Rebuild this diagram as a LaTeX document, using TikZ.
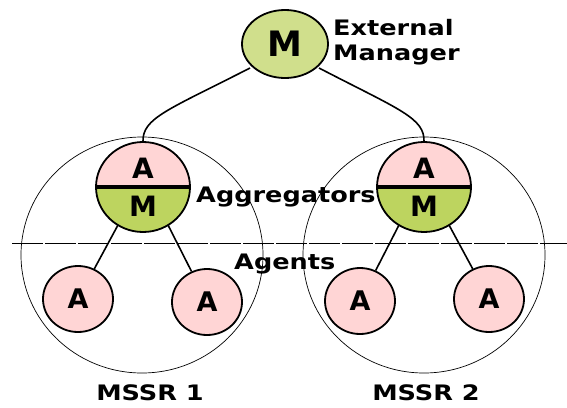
\documentclass[tikz,border=0pt]{standalone}
\usepackage{fontspec}
\setmainfont{DejaVu Sans}
\usetikzlibrary{shapes.geometric}
\definecolor{pinkA}{HTML}{FFD5D5}
\definecolor{greenE}{HTML}{D0DF8C}
\definecolor{greenM}{HTML}{BDD45F}
\begin{document}
\begin{tikzpicture}[x=1pt,y=-1pt,
  lbl/.style={font=\fontsize{21.3}{24}\selectfont\bfseries, xscale=1.2, inner sep=0pt},
  agent/.style={ellipse, draw, line width=1.8pt, fill=pinkA, minimum width=70pt, minimum height=66pt, inner sep=0pt, font=\fontsize{27}{29}\selectfont\bfseries},
  mgr/.style={ellipse, draw, line width=1.8pt, fill=greenE, minimum width=86pt, minimum height=68pt, inner sep=0pt, font=\fontsize{35}{36}\selectfont\bfseries},
  half/.style={inner sep=0pt, font=\fontsize{28}{30}\selectfont\bfseries},
  region/.style={draw, line width=0.7pt},
  link/.style={draw, line width=1.6pt}]
\useasboundingbox (0,0) rectangle (567,407);
% regions
\draw[region] (142,255) ellipse (121 and 118);
\draw[region] (424,255) ellipse (121 and 118);
\draw[line width=0.8pt, dash pattern=on 31pt off 2pt] (12,243) -- (567,243);
% external manager
\node[mgr] (em) at (285,44) {M};
\node[lbl, anchor=west, align=left, font=\fontsize{21.3}{25}\selectfont\bfseries] (emt) at (333,42) {External\\Manager};
% aggregators
\foreach \n/\x in {ag1/143, ag2/424} {
  \begin{scope}
    \clip (\x,187) ellipse (47 and 45);
    \fill[pinkA] (\x-50,135) rectangle (\x+50,187);
    \fill[greenM] (\x-50,187) rectangle (\x+50,235);
  \end{scope}
  \draw[line width=4pt] (\x-47,187) -- (\x+47,187);
  \draw[line width=1.8pt] (\x,187) ellipse (47 and 45);
  \node[inner sep=0pt] (\n) at (\x,187) {};
  \node[half] (\n a) at (\x,168) {A};
  \node[half] (\n m) at (\x,206) {M};
  \coordinate (\n top) at (\x,142);
  \coordinate (\n bl) at (\x-25,225);
  \coordinate (\n br) at (\x+25,225);
}
% agents
\node[agent] (a1) at (78,299) {A};
\node[agent] (a2) at (207,302) {A};
\node[agent] (a3) at (360,301) {A};
\node[agent] (a4) at (489,299) {A};
% links
\coordinate (eml) at (250,68);
\coordinate (emr) at (319,68);
\draw[link] (eml) .. controls (168,110) and (142,118) .. (ag1top);
\draw[link] (emr) .. controls (400,110) and (425,118) .. (ag2top);
\draw[link] (ag1bl) -- (a1);
\draw[link] (ag1br) -- (a2);
\draw[link] (ag2bl) -- (a3);
\draw[link] (ag2br) -- (a4);
% labels
\node[lbl, anchor=west] (aggl) at (196,197) {Aggregators};
\node[lbl, anchor=west] (agl) at (234,264) {Agents};
\node[lbl] (m1) at (150,393) {MSSR 1};
\node[lbl] (m2) at (426,393) {MSSR 2};
\end{tikzpicture}
\end{document}
